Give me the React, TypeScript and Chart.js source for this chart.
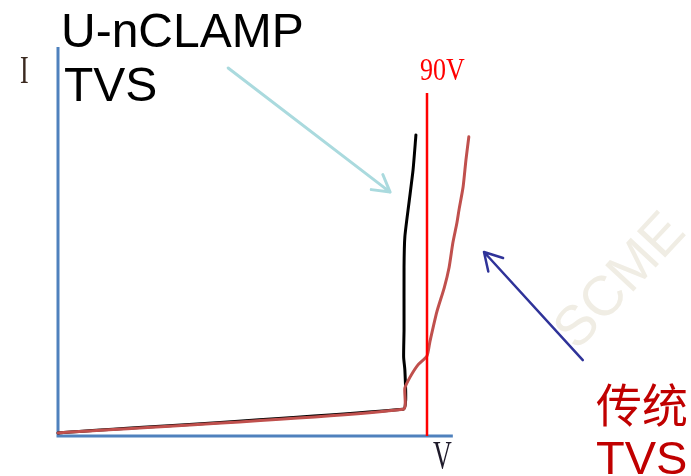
import React, { useEffect, useRef } from "react";
import { Chart, registerables } from "chart.js";
Chart.register(...registerables);

// U-nCLAMP TVS curve (voltage V, current I)
const clampV = [0, 84.2, 84.8, 84.6, 84.3, 84.4, 84.4, 84.6, 85.6, 86.6, 87.3];
const clampI = [0.8, 6.9, 9.3, 17.0, 20.3, 27.3, 43.4, 51.2, 59.9, 68.4, 77.4];
// traditional TVS curve
const tvsV = [0, 84.2, 84.6, 85.9, 87.8, 90.0, 90.7, 92.4, 94.2, 95.4, 96.3, 97.3, 97.8, 98.8, 99.5, 100.2];
const tvsI = [0.8, 6.9, 12.3, 15.2, 18.3, 20.6, 24.2, 31.9, 38.1, 43.4, 49.6, 54.8, 58.1, 64.0, 71.0, 76.9];
// 90V reference line
const refLineV = [90, 90];
const refLineI = [0, 88.2];
// axes
const axisV = [0, 0, 96.3];
const axisI = [100, 0, 0];
// arrows [V, I] from -> to
const arrowClamp = [[41.5, 94.6], [81.0, 62.7]];
const arrowTvs = [[128.0, 19.5], [103.9, 47.3]];

const toPts = (xs: number[], ys: number[]) => xs.map((x, i) => ({ x, y: ys[i] }));

export default function App() {
  const ref = useRef<HTMLCanvasElement | null>(null);
  useEffect(() => {
    if (!ref.current) return;
    const drawArrow = (ctx: CanvasRenderingContext2D, x0: number, y0: number, x1: number, y1: number, color: string, w: number, len: number) => {
      ctx.save();
      ctx.strokeStyle = color;
      ctx.lineWidth = w;
      ctx.lineCap = "round";
      ctx.beginPath();
      ctx.moveTo(x0, y0);
      ctx.lineTo(x1, y1);
      const a = Math.atan2(y0 - y1, x0 - x1);
      for (const s of [-1, 1]) {
        const b = a + (s * Math.PI) / 6;
        ctx.moveTo(x1, y1);
        ctx.lineTo(x1 + len * Math.cos(b), y1 + len * Math.sin(b));
      }
      ctx.stroke();
      ctx.restore();
    };
    const text = (ctx: CanvasRenderingContext2D, s: string, x: number, y: number, font: string, color: string, sy = 1) => {
      ctx.save();
      ctx.font = font;
      ctx.fillStyle = color;
      ctx.textBaseline = "alphabetic";
      ctx.textAlign = "left";
      ctx.translate(x, y);
      ctx.scale(1, sy);
      ctx.fillText(s, 0, 0);
      ctx.restore();
    };
    const deco = {
      id: "deco",
      beforeDatasetsDraw(chart: any) {
        const ctx = chart.ctx as CanvasRenderingContext2D;
        ctx.save();
        ctx.translate(621, 282);
        ctx.rotate((-47 * Math.PI) / 180);
        ctx.font = "56px 'Liberation Sans'";
        ctx.fillStyle = "rgb(240,237,228)";
        ctx.textAlign = "center";
        ctx.textBaseline = "middle";
        ctx.fillText("SCME", 0, 0);
        ctx.restore();
      },
      afterDraw(chart: any) {
        const ctx = chart.ctx as CanvasRenderingContext2D;
        const xs = chart.scales.x;
        const ys = chart.scales.y;
        const P = (p: number[]) => [xs.getPixelForValue(p[0]), ys.getPixelForValue(p[1])];
        const [a0x, a0y] = P(arrowClamp[0]);
        const [a1x, a1y] = P(arrowClamp[1]);
        drawArrow(ctx, a0x, a0y, a1x, a1y, "rgb(170,218,222)", 3, 19);
        const [b0x, b0y] = P(arrowTvs[0]);
        const [b1x, b1y] = P(arrowTvs[1]);
        drawArrow(ctx, b0x, b0y, b1x, b1y, "#2f3399", 2.5, 20);

        text(ctx, "U-nCLAMP", 61, 47, "48px 'Liberation Sans'", "#000");
        text(ctx, "TVS", 64, 101, "48px 'Liberation Sans'", "#000");
        text(ctx, "I", 20, 83, "26px 'Liberation Serif'", "#3b2a20", 1.5);
        text(ctx, "V", 433, 468, "26px 'Liberation Serif'", "#1e1a2a", 1.5);
        text(ctx, "90V", 420, 80, "26px 'Liberation Serif'", "#ff0000", 1.25);
        text(ctx, "传统", 596, 422, "46px 'Noto Sans CJK SC'", "#c00000");
        text(ctx, "TVS", 596, 474, "47px 'Liberation Sans'", "#c00000");
      },
    };
    const common = { showLine: true, pointRadius: 0, clip: false as any, borderCapStyle: "round" as const, borderJoinStyle: "round" as const };
    const chart = new Chart(ref.current, {
      type: "scatter",
      data: {
        datasets: [
          { ...common, order: 3, label: "axes", data: toPts(axisV, axisI), borderColor: "#4f81bd", borderWidth: 3, tension: 0, borderCapStyle: "butt" as const, borderJoinStyle: "miter" as const },
          { ...common, order: 2, label: "U-nCLAMP TVS", data: toPts(clampV, clampI), borderColor: "#000000", borderWidth: 3, tension: 0.2 },
          { ...common, order: 1, label: "传统 TVS", data: toPts(tvsV, tvsI), borderColor: "#c0504d", borderWidth: 3, tension: 0.2 },
          { ...common, order: 0, label: "90V", data: toPts(refLineV, refLineI), borderColor: "#ff0000", borderWidth: 2.5, tension: 0, borderCapStyle: "butt" as const },
        ],
      },
      options: {
        responsive: true,
        maintainAspectRatio: false,
        animation: false,
        events: [],
        layout: { padding: { left: 58, right: 18, top: 47, bottom: 40 } },
        plugins: { legend: { display: false }, tooltip: { enabled: false } },
        scales: {
          x: { type: "linear", min: 0, max: 150, display: false },
          y: { type: "linear", min: 0, max: 100, display: false },
        },
      },
      plugins: [deco],
    });
    return () => chart.destroy();
  }, []);
  return (
    <div style={{ position: "absolute", left: 0, top: 0, width: 691, height: 476, background: "#fff" }}>
      <canvas ref={ref} />
    </div>
  );
}
